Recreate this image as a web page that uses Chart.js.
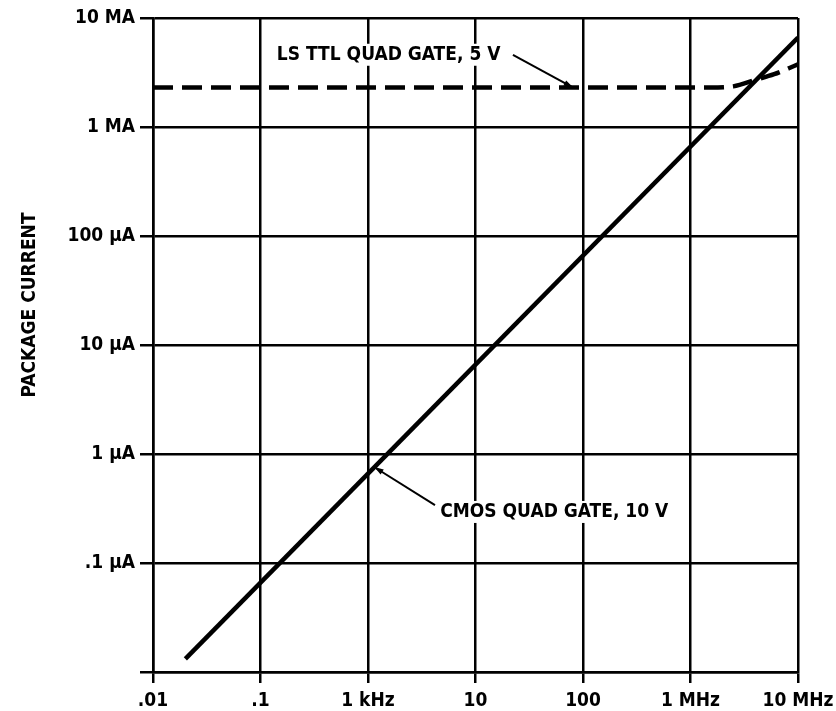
<!DOCTYPE html>
<html>
<head>
<meta charset="utf-8">
<script src="https://cdn.jsdelivr.net/npm/chart.js@4"></script>
<style>
  html, body { margin: 0; padding: 0; background: #fff; }
  #wrap { width: 836px; height: 711px; }
</style>
</head>
<body>
<div id="wrap"><canvas id="chart"></canvas></div>
<script>
// frequency in Hz, current in A
var xTicks = [10, 100, 1e3, 1e4, 1e5, 1e6, 1e7];
var xTickLabels = ['.01', '.1', '1 kHz', '10', '100', '1 MHz', '10 MHz'];
var yTicks = [1e-8, 1e-7, 1e-6, 1e-5, 1e-4, 1e-3, 1e-2];
var yTickLabels = ['', '.1 \u00b5A', '1 \u00b5A', '10 \u00b5A', '100 \u00b5A', '1 MA', '10 MA'];

var cmosFreq = [20, 1e7];
var cmosCurrent = [1.32e-8, 6.6e-3];

var ttlFreq = [10, 1e3, 1e5, 1.5e6, 2.5e6, 4e6, 6e6, 1e7];
var ttlCurrent = [2.3e-3, 2.3e-3, 2.3e-3, 2.3e-3, 2.36e-3, 2.7e-3, 3.05e-3, 3.75e-3];

var FONT = "'Liberation Sans Narrow', 'DejaVu Sans Condensed', 'Arial Narrow', sans-serif";

function toPoints(xs, ys) {
    return xs.map(function (x, i) { return { x: x, y: ys[i] }; });
}

// text + leader lines, anchored in data units
var notes = [
    { text: 'LS TTL QUAD GATE, 5 V', x: 142, y: 4.6e-3, from: [2.23e4, 4.6e-3], to: [8.1e4, 2.3e-3] },
    { text: 'CMOS QUAD GATE, 10 V', x: 4.7e3, y: 2.94e-7, from: [4.2e3, 3.4e-7], to: [1.14e3, 7.6e-7] }
];

var notesPlugin = {
    id: 'notes',
    afterDatasetsDraw: function (chart) {
        var ctx = chart.ctx, xs = chart.scales.x, ys = chart.scales.y;
        ctx.save();
        notes.forEach(function (n) {
            ctx.fillStyle = '#fff';
            ctx.font = 'bold 19px ' + FONT;
            var tx = xs.getPixelForValue(n.x), ty = ys.getPixelForValue(n.y);
            var w = ctx.measureText(n.text).width;
            ctx.fillRect(tx - 3, ty - 11, w + 6, 22);
            ctx.fillStyle = '#000';
            ctx.textBaseline = 'middle';
            ctx.fillText(n.text, tx, ty);

            var x1 = xs.getPixelForValue(n.from[0]), y1 = ys.getPixelForValue(n.from[1]);
            var x2 = xs.getPixelForValue(n.to[0]), y2 = ys.getPixelForValue(n.to[1]);
            ctx.strokeStyle = '#000';
            ctx.lineWidth = 2;
            ctx.beginPath();
            ctx.moveTo(x1, y1);
            ctx.lineTo(x2, y2);
            ctx.stroke();
            var a = Math.atan2(y2 - y1, x2 - x1);
            ctx.beginPath();
            ctx.moveTo(x2, y2);
            ctx.lineTo(x2 - 10 * Math.cos(a - 0.3), y2 - 10 * Math.sin(a - 0.3));
            ctx.lineTo(x2 - 10 * Math.cos(a + 0.3), y2 - 10 * Math.sin(a + 0.3));
            ctx.closePath();
            ctx.fill();
        });

        // y axis title
        ctx.translate(30, 305);
        ctx.rotate(-Math.PI / 2);
        ctx.font = 'bold 19px ' + FONT;
        ctx.textAlign = 'center';
        ctx.textBaseline = 'middle';
        ctx.fillText('PACKAGE CURRENT', 0, 0);
        ctx.restore();
    }
};

new Chart(document.getElementById('chart'), {
    type: 'scatter',
    data: {
        datasets: [
            {
                label: 'LS TTL QUAD GATE, 5 V',
                data: toPoints(ttlFreq, ttlCurrent),
                showLine: true,
                borderColor: '#000',
                borderWidth: 4.5,
                borderDash: [20, 9],
                pointRadius: 0,
                cubicInterpolationMode: 'monotone'
            },
            {
                label: 'CMOS QUAD GATE, 10 V',
                data: toPoints(cmosFreq, cmosCurrent),
                showLine: true,
                borderColor: '#000',
                borderWidth: 4.5,
                pointRadius: 0
            }
        ]
    },
    options: {
        responsive: true,
        maintainAspectRatio: false,
        animation: false,
        layout: { padding: { top: 18, right: 38, left: 0, bottom: 0 } },
        plugins: { legend: { display: false }, tooltip: { enabled: false } },
        scales: {
            x: {
                type: 'logarithmic',
                min: 10,
                max: 1e7,
                afterBuildTicks: function (s) { s.ticks = xTicks.map(function (v) { return { value: v }; }); },
                afterFit: function (s) { s.height = 39; s.paddingLeft = 0; s.paddingRight = 0; },
                grid: { color: '#000', lineWidth: 2.5, tickLength: 11 },
                border: { color: '#000', width: 2.5 },
                ticks: {
                    color: '#000',
                    font: { family: FONT, size: 19, weight: 'bold' },
                    padding: 7,
                    maxRotation: 0,
                    autoSkip: false,
                    callback: function (v) { var i = xTicks.indexOf(v); return i < 0 ? '' : xTickLabels[i]; }
                }
            },
            y: {
                type: 'logarithmic',
                min: 1e-8,
                max: 1e-2,
                afterBuildTicks: function (s) { s.ticks = yTicks.map(function (v) { return { value: v }; }); },
                afterFit: function (s) { s.width = 153; s.paddingTop = 0; s.paddingBottom = 0; },
                grid: { color: '#000', lineWidth: 2.5, tickLength: 13 },
                border: { color: '#000', width: 2.5 },
                ticks: {
                    color: '#000',
                    font: { family: FONT, size: 19, weight: 'bold' },
                    padding: 5,
                    autoSkip: false,
                    callback: function (v) {
                        for (var i = 0; i < yTicks.length; i++) {
                            if (Math.abs(v / yTicks[i] - 1) < 1e-6) return yTickLabels[i];
                        }
                        return '';
                    }
                }
            }
        }
    },
    plugins: [notesPlugin]
});
</script>
</body>
</html>
